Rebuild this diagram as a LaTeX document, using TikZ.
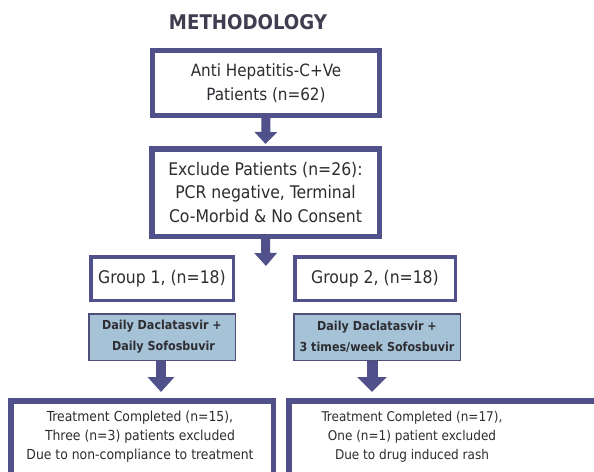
\documentclass[tikz,border=0pt]{standalone}
\usepackage{fontspec}
\setmainfont{DejaVu Sans Condensed}
\usetikzlibrary{arrows.meta}
\definecolor{bord}{RGB}{80,80,138}
\definecolor{bluefill}{RGB}{166,194,215}
\definecolor{blueedge}{RGB}{78,78,120}
\definecolor{txt}{RGB}{45,45,50}
\definecolor{ttl}{RGB}{62,62,80}
\begin{document}
\begin{tikzpicture}[x=1pt,y=-1pt,
  framebox/.style={draw=bord, fill=white, line width=#1, inner sep=0pt, align=center, text=txt},
  drugbox/.style={draw=blueedge, fill=bluefill, line width=1.5pt, inner sep=0pt, align=center, text=txt,
     font=\fontsize{12.4}{21}\selectfont\bfseries},
  boxtext/.style={align=center, text=txt, inner sep=0pt},
  blockarrow/.style n args={3}{draw=bord, line width=#1, -{Triangle[width=#2, length=#3]}}
]
\useasboundingbox (0,0) rectangle (594,471);
\clip (0,0) rectangle (594,471);
\fill[white] (0,0) rectangle (594,471);

\node[text=ttl, font=\fontsize{20.2}{22}\selectfont\bfseries] (title) at (248,22) {METHODOLOGY};

\node[framebox=5pt, minimum width=227pt, minimum height=65pt,
      font=\fontsize{16.9}{24}\selectfont] (all) at (266,83)
  {Anti Hepatitis-C+Ve\\Patients (n=62)};

\node[framebox=5.5pt, minimum width=227.5pt, minimum height=87.5pt,
      font=\fontsize{17.4}{23.5}\selectfont] (excl) at (265.5,192.5)
  {Exclude Patients (n=26):\\PCR negative, Terminal\\Co-Morbid \& No Consent};

\node[framebox=3.5pt, minimum width=142.5pt, minimum height=43.5pt,
      font=\fontsize{17.4}{20}\selectfont] (g1) at (162,278.5) {Group 1, (n=18)};
\node[framebox=3.5pt, minimum width=160.5pt, minimum height=43.5pt,
      font=\fontsize{17.4}{20}\selectfont] (g2) at (375,278.5) {Group 2, (n=18)};

\node[drugbox, minimum width=146.5pt, minimum height=46.5pt] (d1) at (162,337)
  {Daily Daclatasvir +\\\hspace*{3pt}Daily Sofosbuvir};
\node[drugbox, minimum width=166.5pt, minimum height=46.5pt] (d2) at (377,337)
  {Daily Daclatasvir +\\3 times/week Sofosbuvir};

\node[framebox=5.5pt, minimum width=262.5pt, minimum height=76.5pt] (r1) at (142,439) {};
\node[boxtext, font=\fontsize{13.8}{19}\selectfont] (r1text) at (140,437)
  {Treatment Completed (n=15),\\Three (n=3) patients excluded\\Due to non-compliance to treatment};
\node[framebox=5.5pt, minimum width=328.5pt, minimum height=76.5pt] (r2) at (453,439) {};
\node[boxtext, font=\fontsize{13.4}{19}\selectfont] (r2text) at (412,437)
  {Treatment Completed (n=17),\\One (n=1) patient excluded\\Due to drug induced rash};

\coordinate (split) at (266,266);

\draw[blockarrow={9pt}{22pt}{12pt}, shorten >=2pt] (all.south) -- (excl.north);
\draw[blockarrow={9pt}{22pt}{13pt}] (excl.south) -- (split);
\draw[blockarrow={10pt}{26pt}{15pt}, shorten >=6pt] ([xshift=-1pt]d1.south) -- ([xshift=-1pt]d1.south |- r1.north);
\draw[blockarrow={11pt}{29pt}{15pt}, shorten >=6pt] ([xshift=-5pt]d2.south) -- ([xshift=-5pt]d2.south |- r2.north);
\end{tikzpicture}
\end{document}
